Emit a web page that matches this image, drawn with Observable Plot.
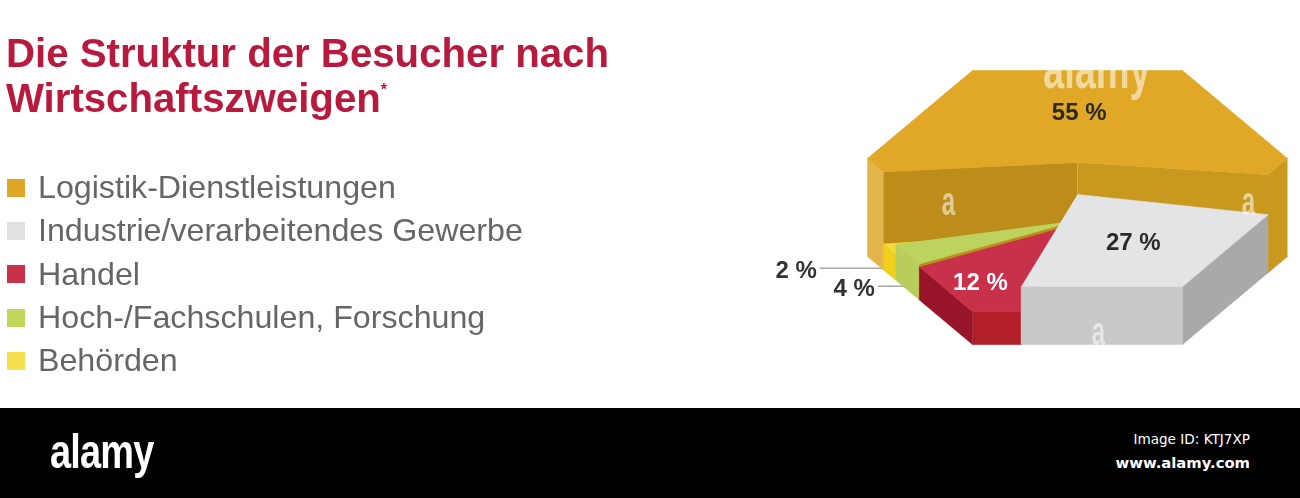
<!DOCTYPE html>
<html lang="de">
<head>
<meta charset="utf-8">
<script src="https://cdn.jsdelivr.net/npm/d3@7"></script>
<script src="https://cdn.jsdelivr.net/npm/@observablehq/plot@0.6"></script>
<style>
  html, body { margin: 0; padding: 0; background: #fff; }
  #page { position: relative; width: 1300px; height: 498px; overflow: hidden; font-family: "Liberation Sans", Arial, sans-serif; }
  #title { position: absolute; left: 6px; top: 31px; margin: 0; font-size: 40.2px; line-height: 45px; font-weight: 700; color: #b81a3d; white-space: nowrap; filter: blur(0.5px); }
  #title sup { font-size: 16px; line-height: 0; vertical-align: 17px; }
  #legend { position: absolute; left: 7px; top: 166px; margin: 0; padding: 0; list-style: none; filter: blur(0.5px); }
  #legend li { height: 43.3px; display: flex; align-items: center; font-size: 32.2px; color: #666; white-space: nowrap; }
  #legend i { display: block; width: 18px; height: 18px; margin-right: 13px; }
  #chart { position: absolute; left: 640px; top: 0; filter: blur(0.5px); }
  #footer { position: absolute; left: 0; top: 408px; width: 1300px; height: 90px; background: #000; color: #fff; }
  #logo { position: absolute; left: 50px; top: 16px; font: 700 48px/1.15 "Liberation Sans", sans-serif; letter-spacing: -1px; transform-origin: left top; transform: scaleX(0.79); }
  #imgid { position: absolute; right: 50px; top: 23px; font: 13.6px "DejaVu Sans"; }
  #site { position: absolute; right: 50px; top: 46px; font: 700 14.8px "DejaVu Sans"; }
  .wm { position: absolute; color: rgba(255,255,255,0.55); font: 700 30px/30px "Liberation Sans", sans-serif; transform: scale(0.8, 1.35); }
  #wmtop { left: 1043px; top: 56px; font-size: 38px; line-height: 38px; transform-origin: 0 32px; transform: scaleY(1.5); }
</style>
</head>
<body>
<div id="page">
  <h1 id="title">Die Struktur der Besucher nach<br>Wirtschaftszweigen<sup>*</sup></h1>
  <ul id="legend"></ul>
  <div id="chart"></div>
  <span class="wm" id="wmtop">alamy</span>
  <span class="wm" style="left:940px;top:186px">a</span>
  <span class="wm" style="left:1240px;top:186px">a</span>
  <span class="wm" style="left:1090px;top:316px">a</span>
  <div id="footer">
    <span id="logo">alamy</span>
    <span id="imgid">Image ID: KTJ7XP</span>
    <span id="site">www.alamy.com</span>
  </div>
</div>
<script>
// Data
const categories = ["Logistik-Dienstleistungen", "Industrie/verarbeitendes Gewerbe", "Handel", "Hoch-/Fachschulen, Forschung", "Behörden"];
const shares = [55, 27, 12, 4, 2];
const labels = ["55 %", "27 %", "12 %", "4 %", "2 %"];

// Styling
const swatchColors = ["#e0a626", "#e0e1e2", "#c9304a", "#bfd65b", "#f5e04f"];
const topColors = ["#e0a826", "#e2e4e5", "#c9304a", "#bcd45f", "#f3da3b"];
// outer wall colours for the three visible hexagon edges: lower right, bottom, lower left
const wallColors = [
  ["#c9981f", "#c9981f", "#e3b54d"],
  ["#a9a9a9", "#c9c9c9", "#c9c9c9"],
  ["#981429", "#b21f26", "#981429"],
  ["#b8cd5c", "#b8cd5c", "#b8cd5c"],
  ["#f0cf1a", "#f0cf1a", "#f0cf1a"]
];
const radialColors = {start: "#bd8d1a", end: "#c9981f"};
const labelColors = ["#2a2a20", "#2a2a2a", "#ffffff", "#333333", "#333333"];

// Prism layout: a regular hexagon laid flat, each slice extruded
const radius = 210, squash = 88 / (210 * Math.sqrt(3) / 2);
const extrusion = [98, 58, 33, 36, 26];
const apexShift = [4, -4, 0, 0, 0];
const labelRadius = [95, 107, 155, null, null];
const leaderLength = [0, 0, 0, 30, 70];
const leaderRise = [0, 0, 0, 4, 7];
const firstAngle = 172; // degrees, clockwise from east
const drawOrder = [0, 4, 3, 2, 1];

const rad = Math.PI / 180;
function rim(a) {
  const n = ((a % 360) + 360) % 360;
  const k = Math.floor(n / 60);
  const r = radius * Math.cos(30 * rad) / Math.cos((n - (k * 60 + 30)) * rad);
  return [r * Math.cos(n * rad), r * Math.sin(n * rad)];
}
const lift = ([x, y], h) => ({x, y: y * squash - h});
const total = d3.sum(shares);
let acc = firstAngle;
const slices = shares.map((v, i) => {
  const a0 = acc; acc += v / total * 360;
  return {i, a0, a1: acc, h: extrusion[i]};
});
const rimAngles = (a0, a1) => {
  const out = [a0];
  for (let k = Math.floor(a0 / 60) + 1; k * 60 < a1; k++) out.push(k * 60);
  out.push(a1);
  return out;
};
const faces = [];
function addFace(id, color, pts) { pts.forEach(p => faces.push({id, color, x: p.x, y: p.y})); }
for (const i of drawOrder) {
  const s = slices[i], {a0, a1, h} = s;
  const apex = lift([0, 0], h - apexShift[i]);
  const prev = slices[(i + slices.length - 1) % slices.length];
  const next = slices[(i + 1) % slices.length];
  if (Math.sin((a0 - 90) * rad) > 0 && prev.h < h)
    addFace(`${i}-rs`, radialColors.start, [apex, lift(rim(a0), h), lift(rim(a0), 0), lift([0, 0], 0)]);
  if (Math.sin((a1 + 90) * rad) > 0 && next.h < h)
    addFace(`${i}-re`, radialColors.end, [apex, lift(rim(a1), h), lift(rim(a1), 0), lift([0, 0], 0)]);
  const as = rimAngles(a0, a1);
  for (let k = 0; k < as.length - 1; k++) {
    const mid = (((as[k] + as[k + 1]) / 2) % 360 + 360) % 360;
    if (mid >= 180) continue;
    const edge = Math.floor(mid / 60);
    addFace(`${i}-w${k}`, wallColors[i][edge], [lift(rim(as[k]), h), lift(rim(as[k + 1]), h), lift(rim(as[k + 1]), 0), lift(rim(as[k]), 0)]);
  }
  addFace(`${i}-top`, topColors[i], [apex, ...as.map(a => lift(rim(a), h))]);
}

const inside = [], outside = [];
for (const s of slices) {
  const mid = (s.a0 + s.a1) / 2;
  if (labelRadius[s.i] != null) {
    const p = lift([labelRadius[s.i] * Math.cos(mid * rad), labelRadius[s.i] * Math.sin(mid * rad)], s.h);
    inside.push({x: p.x, y: p.y, label: labels[s.i], color: labelColors[s.i]});
  } else {
    const p = lift(rim(mid), leaderRise[s.i]);
    const start = p.x - leaderLength[s.i];
    outside.push({x: start - 3, y: p.y + 2, label: labels[s.i], color: labelColors[s.i], x1: start, x2: p.x + 4, ly: p.y});
  }
}
const labelFont = {fontSize: 24, fontWeight: 700, fontFamily: "Liberation Sans"};

const plot = Plot.plot({
  width: 660, height: 408,
  marginLeft: 0, marginRight: 0, marginTop: 0, marginBottom: 0,
  style: {background: "transparent", overflow: "visible"},
  x: {domain: [-437, 223], range: [0, 660], axis: null},
  y: {domain: [-256, 152], range: [0, 408], axis: null},
  color: {type: "identity"},
  marks: [
    Plot.link(outside, {x1: "x1", x2: "x2", y1: "ly", y2: "ly", stroke: "#a8a8a8", strokeWidth: 1.5}),
    Plot.line(faces, {x: "x", y: "y", z: "id", fill: "color", stroke: "color", strokeWidth: 0.6, curve: "linear"}),
    Plot.text(inside, {x: "x", y: "y", text: "label", fill: "color", textAnchor: "middle", ...labelFont}),
    Plot.text(outside, {x: "x", y: "y", text: "label", fill: "color", textAnchor: "end", ...labelFont})
  ]
});
document.getElementById("chart").append(plot);

d3.select("#legend").selectAll("li").data(categories).join("li").each(function (d, i) {
  d3.select(this).append("i").style("background", swatchColors[i]);
  d3.select(this).append("span").text(d);
});
</script>
</body>
</html>
